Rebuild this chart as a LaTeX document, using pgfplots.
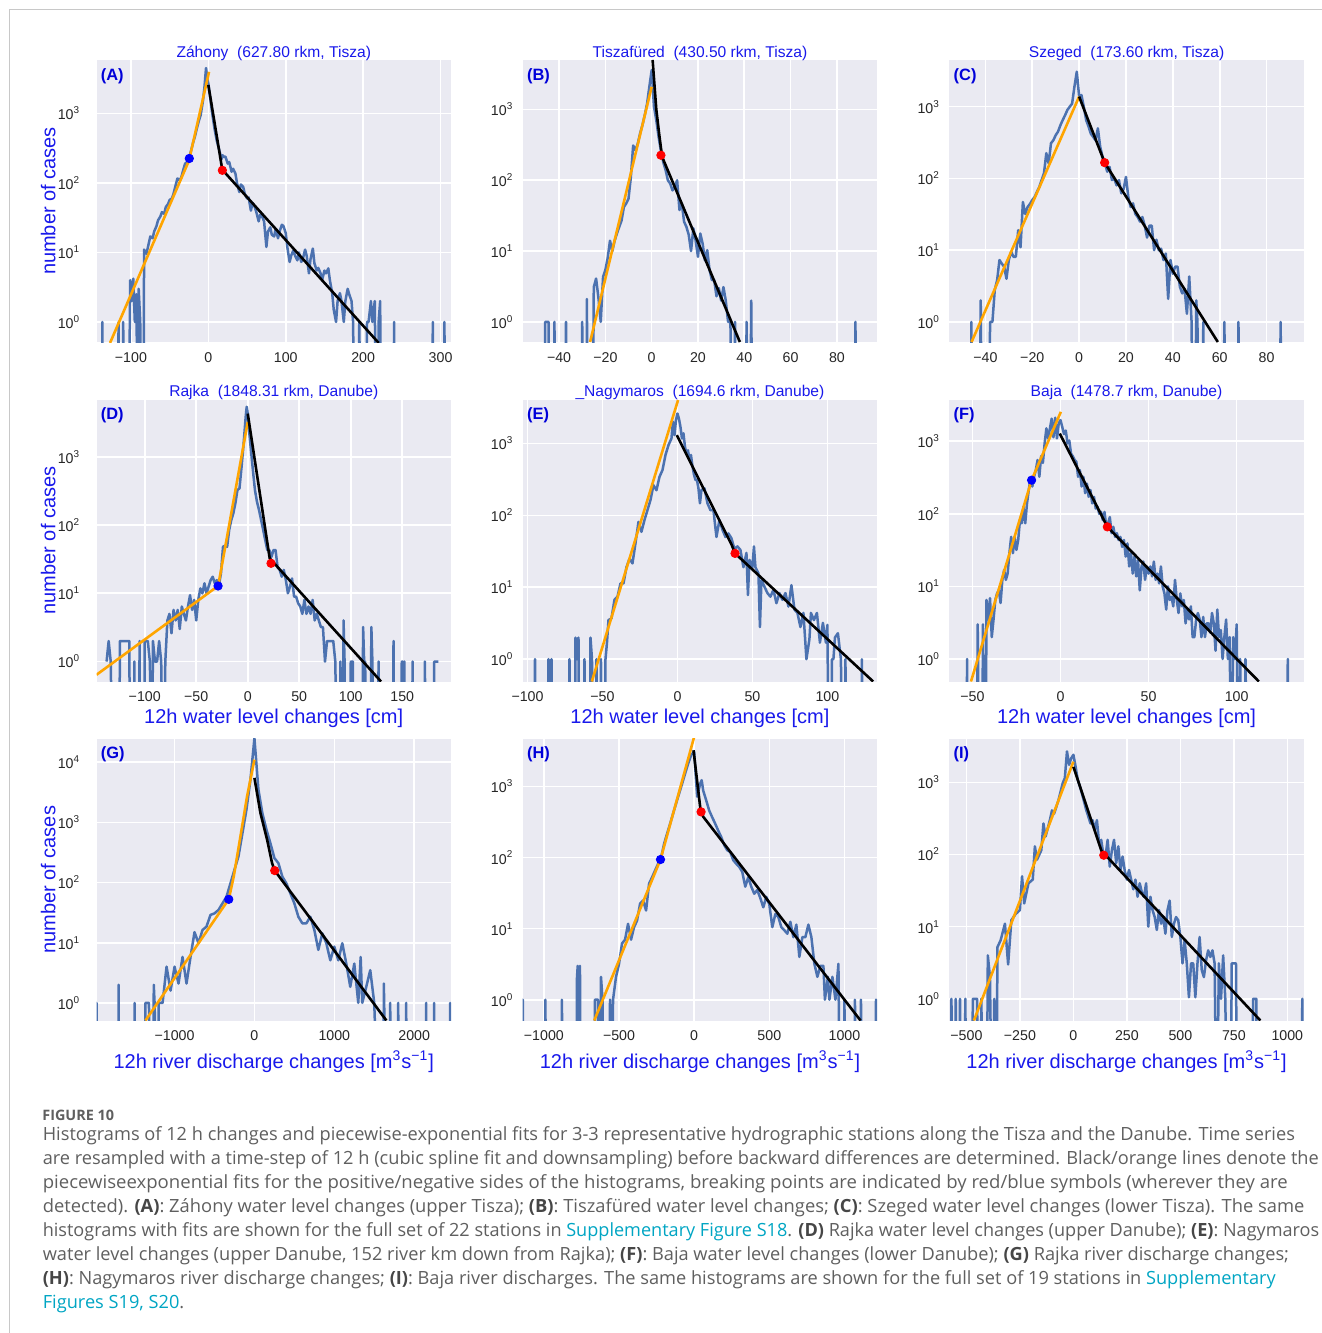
\documentclass[border=0pt]{standalone}
\usepackage{fontspec}
\setmainfont{Liberation Sans}
\newfontfamily\capfont{Open Sans}
\usepackage{pgfplots}
\pgfplotsset{compat=1.18}
\definecolor{bgc}{RGB}{234,234,242}
\definecolor{sblue}{RGB}{76,114,176}
\definecolor{forange}{RGB}{255,165,0}
\definecolor{ttl}{RGB}{25,25,235}
\definecolor{tickc}{RGB}{38,38,38}
\definecolor{capg}{RGB}{95,95,95}
\definecolor{capb}{RGB}{70,70,70}
\definecolor{link}{RGB}{0,165,195}
\definecolor{framec}{RGB}{200,200,200}
\pgfplotsset{
 mypanel/.style={
  scale only axis, width=177.25pt, height=141pt,
  axis background/.style={fill=bgc},
  axis line style={draw=none},
  major tick length=0pt, minor tick length=0pt,
  grid=major, major grid style={white, line width=0.8pt},
  tick label style={font=\fontsize{7.1}{8}\selectfont, text=tickc},
  xticklabel style={inner sep=0pt, anchor=north, yshift=-5pt},
  yticklabel style={inner sep=0pt, anchor=east},
  clip mode=individual,
  anchor=south west,
 },
 mycolA/.style={yticklabel style={xshift=-8pt}},
 mycolB/.style={yticklabel style={xshift=-4.5pt}},
 myyfour/.style={ytick={1,10,100,1000}, yticklabels={10\textsuperscript{0},10\textsuperscript{1},10\textsuperscript{2},10\textsuperscript{3}}},
 myyfive/.style={ytick={1,10,100,1000,10000}, yticklabels={10\textsuperscript{0},10\textsuperscript{1},10\textsuperscript{2},10\textsuperscript{3},10\textsuperscript{4}}},
 myblue/.style={sblue, line width=1.25pt, line join=round},
 myorange/.style={forange, line width=1.3pt},
 myblack/.style={black, line width=1.3pt},
 myreddot/.style={only marks, mark=*, mark size=2.1pt, mark options={draw=red, fill=red}},
 mybluedot/.style={only marks, mark=*, mark size=2.1pt, mark options={draw=blue, fill=blue}},
}
\newcommand{\lab}[1]{\node[anchor=north west, inner sep=0pt, font=\fontsize{8.2}{9}\selectfont\bfseries, text=blue!85!black] at (rel axis cs:0,1) [xshift=2pt, yshift=-4pt] {#1};}
\begin{document}
\begin{tikzpicture}
\path[use as bounding box] (0,0) rectangle (661pt,-666.5pt);
\draw[framec, line width=0.6pt] (4.65pt,-666.5pt) -- (4.65pt,-4.65pt) -- (661pt,-4.65pt);

% ---------------- A
\begin{semilogyaxis}[mypanel, mycolA, myyfour, at={(48.25pt,-171pt)}, xmin=-144.5, xmax=313.5, ymin=0.515, ymax=5870,
 xtick={-100,0,100,200,300}, xticklabels={−100,0,100,200,300}]
\addplot[myblue] coordinates {(-137,0.01)(-137,1)(-136,0.01)(-117,0.01)(-116,1)(-115,0.01)(-111,0.01)(-110,1)(-109,0.01)
(-103,0.01)(-101,4)(-99,2)(-97,4.2)(-95,1)(-93,2.5)(-91,0.01)(-90,3)(-88,1)(-86,0.01)(-84,0.01)(-83,11)(-80,9.6)(-78,12)(-75,17)(-72,16)(-70,20)(-67,24)(-65,29)(-62,33)(-60,38)(-57,36)(-55,45)(-52,50)(-50,57)(-47,60)(-45,70)(-42,95)(-40,116)(-37,110)(-35,120)(-32,160)(-30,190)(-27,200)(-25,225)(-22,300)(-20,370)(-17,480)(-15,600)(-12,800)(-10,940)(-7,1500)(-5,2400)(-3,4500)(-1,3000)(0,2700)(2,1800)(5,1000)(8,600)(11,400)(14,300)(17,220)(18.5,250)(20,237)(22,240)(25,190)(27,200)(30,145)(32,160)(35,136)(37,100)(40,74)(42,95)(45,88)(47,70)(50,60)(52,62)(55,40)(57,52)(60,45)(62,38)(65,28)(67,35)(70,32)(72,28)(75,12)(77,20)(80,23)(82,18)(85,17)(87,22)(90,16)(92,20)(95,25)(97,24)(100,19)(102,12)(105,7.3)(107,9)(110,10.8)(112,9)(115,7.7)(117,10)(120,7.3)(122,8)(125,11)(127,9)(130,5)(132,8)(135,11.4)(137,7)(140,5.5)(142,6)(145,5)(147,4)(150,5.5)(152,5)(155,5.9)(157,4)(160,2.6)(162,1.5)(165,1)(167,2)(170,2.6)(172,2)(175,1)(177,2)(180,3)(182,2.5)(185,2)(187,1)(189,0.01)(193,0.01)(195,1)(197,0.01)(203,0.01)(205,1)(207,1)(210,2)(212,1)(215,2)(217,0.01)(219,0.01)(220,1)(222,2)(223,0.01)(239,0.01)(240,1)(241,0.01)(289,0.01)(290,1)(291,0.01)(304,0.01)(305,1)(306,0.01)};
\addplot[myorange] coordinates {(-127,0.5)(-25,210)(0.9,3970)};
\addplot[myblack] coordinates {(0,2570)(18,155)(220,0.5)};
\addplot[mybluedot] coordinates {(-24.6,225)};
\addplot[myreddot] coordinates {(18.1,152)};
\lab{(A)}
\end{semilogyaxis}

% ---------------- B
\begin{semilogyaxis}[mypanel, mycolB, myyfour, at={(261.35pt,-171pt)}, xmin=-55.7, xmax=97.4, ymin=0.52, ymax=5000,
 xtick={-40,-20,0,20,40,60,80}, xticklabels={−40,−20,0,20,40,60,80}]
\addplot[myblue] coordinates {(-46,0.01)(-46,1)(-44.5,1)(-44.5,0.01)(-42,0.01)(-42,1)(-41.5,0.01)(-37.5,0.01)(-37,1)(-36.5,0.01)(-30.5,0.01)(-30,1)(-29.5,0.01)(-28,0.01)(-28,2.1)(-27.5,0.01)(-25.5,0.01)(-25,3.1)(-24,4.1)(-23,2.2)(-22,1)(-21,4.3)(-20,5.4)(-19,8)(-18,14)(-17,10)(-16,14)(-15,17.7)(-14,22)(-13,27)(-12,42)(-11,47)(-10,55)(-9,110)(-8,310)(-7,265)(-6,330)(-5,460)(-4,600)(-3,830)(-2,1200)(-1,2100)(0,3600)(1,1100)(2,700)(3,410)(4,260)(5,180)(6,140)(7,100)(8,90)(9,72)(10,81)(11,100)(12,38)(13,47)(14,26)(15,22)(16,17)(17,10)(18,21)(19,14)(20,8.3)(21,17.7)(22,12.8)(23,7.4)(24,10.3)(25,5.4)(26,3.9)(27,3.9)(28,2.3)(29,3)(30,2)(31,3.1)(32,2)(33,1)(34,1)(35,0.01)(35.5,0.01)(36,1)(36.5,0.01)(40.5,0.01)(41,1)(41.5,0.01)(42.5,0.01)(43,2)(43.5,0.01)(87.5,0.01)(88,1)(88.5,0.01)};
\addplot[myorange] coordinates {(-26.6,0.52)(0,2090)};
\addplot[myblack] coordinates {(0.4,5000)(2,1000)(3.2,460)(4.5,215)(38.1,0.52)};
\addplot[myreddot] coordinates {(4,226)};
\lab{(B)}
\end{semilogyaxis}

% ---------------- C
\begin{semilogyaxis}[mypanel, mycolB, myyfour, at={(474.65pt,-171pt)}, xmin=-55.4, xmax=95.9, ymin=0.526, ymax=4470,
 xtick={-40,-20,0,20,40,60,80}, xticklabels={−40,−20,0,20,40,60,80}]
\addplot[myblue] coordinates {(-46,0.01)(-46,1)(-45.5,0.01)(-42.5,0.01)(-42,2)(-41.5,0.01)(-38.5,0.01)(-38,1)(-37,1)(-36,2.8)(-35,3.8)(-34,7.3)(-33,6.5)(-32,5.9)(-31,4)(-30,7.3)(-29,9.5)(-28,8.1)(-27,8.1)(-26,19)(-25,11)(-24,47)(-23,32)(-22,40)(-21,44)(-20,50)(-19,55)(-18,65)(-17,76)(-16,95)(-15,118)(-14,225)(-13,162)(-12,310)(-11,340)(-10,400)(-9,450)(-8,550)(-7,650)(-6,760)(-5,900)(-4,1000)(-3,1100)(-2,1900)(-1,3070)(0,1400)(1,1450)(2,1000)(3,650)(4,530)(5,420)(6,380)(7,340)(8,500)(9,275)(10,200)(11,165)(12,124)(13,145)(14,95)(15,100)(16,80)(17,95)(18,62)(19,72)(20,105)(21,55)(22,40)(23,45)(24,32)(25,29)(26,25)(27,29)(28,22)(29,15)(30,22)(31,22)(32,10)(33,14)(34,10)(35,10.5)(36,7.3)(37,9)(38,2.1)(39,7.3)(40,4.7)(41,5.9)(42,5.9)(43,3.1)(44,2.5)(45,2.9)(46,1.3)(47,4.3)(48,1)(48.5,0.01)(49.5,0.01)(50,2)(50.5,1)(51,0.01)(52.5,0.01)(53,1)(53.5,0.01)(61.5,0.01)(62,1)(62.5,0.01)(67.5,0.01)(68,1)(68.5,0.01)(85.5,0.01)(86,1)(86.5,0.01)};
\addplot[myorange] coordinates {(-45.9,0.526)(0,1380)};
\addplot[myblack] coordinates {(0,1380)(10.9,166)(59.2,0.526)};
\addplot[myreddot] coordinates {(10.9,166)};
\lab{(C)}
\end{semilogyaxis}

% ---------------- D
\begin{semilogyaxis}[mypanel, mycolA, myyfour, at={(48.25pt,-340.75pt)}, xmin=-146.8, xmax=197.3, ymin=0.51, ymax=6900,
 xtick={-100,-50,0,50,100,150}, xticklabels={−100,−50,0,50,100,150}]
\addplot[myblue] coordinates {(-137,1)(-135,2)(-133,1)(-131,0.01)(-125,0.01)(-124,2)(-115,2)(-114,0.01)(-110.5,0.01)(-110,1)(-109.5,0.01)(-105.5,0.01)(-105,2)(-104.5,0.01)(-100.5,0.01)(-100,2)(-97,2)(-95,1)(-93,0.01)(-92,2)(-90,1)(-88,1)(-86,2)(-84,1)(-82,0.01)(-80,1)(-78,4)(-76,5)(-74,2.6)(-72,5.7)(-70,4)(-68,5.7)(-66,3)(-64,6.4)(-62,5)(-60,4)(-58,6.4)(-56,9.4)(-54,5.7)(-52,8)(-50,4)(-48,8)(-46,11.8)(-44,10)(-42,14)(-40,10)(-38,12.5)(-36,15.6)(-34,17.5)(-32,14)(-30,15.6)(-28,13)(-26,19.5)(-24,48)(-22,50)(-20,48)(-18,85)(-16,118)(-14,148)(-12,208)(-10,325)(-8,345)(-6,710)(-4,1550)(-2,3850)(-1,5400)(0,4300)(1,2700)(3,1300)(5,640)(7,325)(9,218)(11,165)(13,118)(15,85)(17,60)(19,43)(21,43)(23,34)(25,43)(27,43)(29,24)(31,22)(33,17.5)(35,22)(37,15.6)(39,10)(41,12.5)(43,16.5)(45,8.9)(47,8.9)(49,7.1)(51,6.4)(53,5)(55,8)(57,5)(59,6.4)(61,5)(63,8)(65,4)(67,5)(69,4)(71,3.2)(73,3.2)(75,1)(77,2)(80,2)(83,2)(85,1)(87,0.01)(89,0.01)(90,1)(91,0.01)(92.5,0.01)(93,4)(94,1)(95,0.01)(99,0.01)(100,1)(102,1)(103,0.01)(111,0.01)(112,3.2)(113,1)(114,1)(115,0.01)(119,0.01)(120,3.2)(121,1)(122,0.01)(126,0.01)(127,1)(128,0.01)(141,0.01)(141.5,2)(142,0.01)(149,0.01)(149.5,1)(150.5,1)(151,0.01)(151.5,0.01)(152,1)(152.5,0.01)(159.5,0.01)(160,1)(160.5,0.01)(171.5,0.01)(172,1)(172.5,0.01)(181,0.01)(181,1)(185,1)};
\addplot[myorange] coordinates {(-146.8,0.64)(-28.8,12.8)(-26.5,19.5)(0,3240)};
\addplot[myblack] coordinates {(0,4290)(21.3,32.6)(129.4,0.51)};
\addplot[mybluedot] coordinates {(-28.8,12.8)};
\addplot[myreddot] coordinates {(22.6,27.5)};
\lab{(D)}
\end{semilogyaxis}

% ---------------- E
\begin{semilogyaxis}[mypanel, mycolB, myyfour, at={(261.35pt,-340.75pt)}, xmin=-103.2, xmax=133.2, ymin=0.49, ymax=4070,
 xtick={-100,-50,0,50,100}, xticklabels={−100,−50,0,50,100}]
\addplot[myblue] coordinates {(-95.5,0.01)(-95,1)(-94.5,0.01)(-86.5,0.01)(-86,1)(-85.5,0.01)(-84.5,0.01)(-84,1)(-83.5,0.01)(-72.5,0.01)(-72,1)(-71.5,0.01)(-68.5,0.01)(-68,2)(-67,1)(-66,2)(-65.5,0.01)(-62.5,0.01)(-62,1)(-61.5,0.01)(-58.5,0.01)(-58,2)(-57,1)(-56.5,0.01)(-54.5,0.01)(-54,1)(-53.5,0.01)(-51.5,0.01)(-51,1)(-50.5,0.01)(-48.5,0.01)(-48,1)(-47,1.7)(-46,3.5)(-44,3.7)(-42,6.7)(-40,7.4)(-38,11.3)(-36,11.3)(-34,19)(-32,25)(-30,21.5)(-28,40.8)(-26,81)(-24,59)(-22,86)(-20,118)(-18,163)(-16,262)(-14,223)(-12,342)(-10,425)(-8,687)(-6,945)(-4,1170)(-3,2000)(-2,1300)(-1,2100)(0,2600)(1,2200)(2,1700)(3,1170)(4,1380)(5,900)(6,720)(7,800)(8,590)(9,690)(10,480)(11,370)(12,310)(13,310)(14,237)(15,147)(16,225)(18,237)(20,147)(22,118)(24,118)(26,50)(28,86)(30,63)(32,50)(34,56)(36,48)(38,34)(40,37)(42,33)(44,19)(46,30)(47,7.8)(48,24)(50,19)(51,37)(52,19)(54,15.6)(55,2.8)(56,12.6)(58,10.2)(60,8.3)(62,7.4)(64,9.2)(66,6)(68,8.3)(70,6.7)(72,8.3)(74,5.4)(76,10.7)(78,4.9)(80,4.4)(82,2.8)(84,4.4)(86,1)(88,1.9)(89,4.4)(91,3.5)(93,4.4)(95,1.7)(97,3.2)(99,1.7)(100,3)(101,0.01)(102.5,0.01)(103,1)(104,1)(105,2)(107,2.3)(109,1)(110,0.01)(111.5,0.01)(112,1)(113,0.01)(122.5,0.01)(123,1)(123.5,0.01)};
\addplot[myorange] coordinates {(-57.1,0.49)(0.4,4000)};
\addplot[myblack] coordinates {(-0.4,1300)(36.1,39)(38.4,29.6)(130.5,0.49)};
\addplot[myreddot] coordinates {(38.4,29.6)};
\lab{(E)}
\end{semilogyaxis}

% ---------------- F
\begin{semilogyaxis}[mypanel, mycolB, myyfour, at={(474.65pt,-340.75pt)}, xmin=-63.1, xmax=138.1, ymin=0.49, ymax=3740,
 xtick={-50,0,50,100}, xticklabels={−50,0,50,100}]
\addplot[myblue] coordinates {(-53.5,0.01)(-53,1)(-52.5,0.01)(-47.5,0.01)(-47,3)(-46,0.01)(-44.5,0.01)(-44,3)(-43,0.01)(-42.5,0.01)(-42,6.5)(-41,3.5)(-40,6.9)(-39,2)(-38,3.5)(-37,6.5)(-36,8)(-35,8.8)(-34,5.9)(-33,12.3)(-32,16.8)(-31,12.3)(-30,15)(-29,28.6)(-28,48)(-27,28.6)(-26,48)(-25,31.8)(-24,43.5)(-23,82)(-22,74)(-21,125)(-20,74)(-19,139)(-18,212)(-17,313)(-16,237)(-15,323)(-14,400)(-13,550)(-12,323)(-11,620)(-10,500)(-9,930)(-8,1500)(-7,1090)(-6,1500)(-5,2040)(-4,1130)(-3,2100)(-2,1090)(-1,1750)(0,1950)(1,1570)(2,1250)(3,1400)(4,930)(5,1020)(6,670)(7,620)(8,550)(9,520)(10,323)(11,400)(12,237)(13,323)(14,192)(15,260)(16,171)(17,212)(18,139)(19,171)(20,118)(21,125)(22,100)(23,106)(24,82)(25,106)(26,66)(27,74)(28,90)(29,54)(30,66)(31,48)(32,54)(33,43.5)(34,48)(35,35)(36,43.5)(37,25.7)(38,39)(39,18.8)(40,28.6)(41,15)(42,25.7)(43,13.7)(44,23)(45,8.8)(46,18.8)(47,22)(48,12.3)(49,18.8)(50,15)(51,18.8)(52,13.7)(53,22)(54,12.3)(55,15)(56,11)(57,18.8)(58,10)(59,8)(60,4.8)(61,10)(62,6.5)(63,7.2)(64,5.3)(65,12.3)(66,6.5)(67,4.3)(68,8)(69,5.3)(70,6.5)(71,3.1)(72,4.8)(73,3.5)(74,5.3)(75,2)(76,2)(77,3.5)(78,4.3)(79,3.5)(80,2)(81,3.8)(82,2)(83,3.1)(84,3.1)(85,2.3)(86,4.3)(87,3.1)(88,1.3)(89,4.8)(90,2)(91,2.5)(92,1)(93,2)(94,3.5)(95,1)(96,2)(97,0.01)(98,2)(99,1)(100,3)(101,0.01)(102,1)(103,0.01)(104.5,0.01)(105,1)(106,0.01)(128.5,0.01)(129,1)(129.5,0.01)};
\addplot[myorange] coordinates {(-50.8,0.49)(-16.4,290)(0.2,2530)};
\addplot[myblack] coordinates {(-0.4,1270)(25.1,78)(26.6,66)(112.6,0.49)};
\addplot[mybluedot] coordinates {(-16.4,290)};
\addplot[myreddot] coordinates {(26.6,66)};
\lab{(F)}
\end{semilogyaxis}

% ---------------- G
\begin{semilogyaxis}[mypanel, mycolA, myyfive, at={(48.25pt,-510.25pt)}, xmin=-1977, xmax=2461, ymin=0.51, ymax=24700,
 xtick={-1000,0,1000,2000}, xticklabels={−1000,0,1000,2000}]
\addplot[myblue] coordinates {(-1977,0.01)(-1977,1)(-1970,0.01)(-1705,0.01)(-1700,2)(-1695,0.01)(-1505,0.01)(-1500,1)(-1495,0.01)(-1370,0.01)(-1365,1)(-1320,1)(-1315,0.01)(-1265,0.01)(-1260,2)(-1250,1)(-1220,0.01)(-1200,0.01)(-1200,1)(-1150,1)(-1100,4)(-1050,1.6)(-1000,4)(-950,2.1)(-900,5.8)(-850,2.1)(-800,5.8)(-750,15)(-700,9.8)(-650,16.3)(-600,18.5)(-550,29)(-500,30.7)(-450,35)(-400,45)(-350,58)(-300,97)(-250,163)(-200,270)(-150,660)(-100,1620)(-50,5100)(0,25000)(50,3500)(100,1400)(150,760)(200,450)(250,255)(300,210)(350,125)(400,97)(450,66)(500,45)(550,27)(600,21)(650,21)(700,27)(750,16.3)(800,7.6)(850,14.3)(900,9.8)(950,5.1)(1000,8.6)(1050,5.1)(1100,9.8)(1150,4.5)(1200,1.85)(1250,4.5)(1300,1)(1330,5.8)(1350,1)(1400,1.85)(1450,3.5)(1500,1)(1550,0.01)(1615,0.01)(1620,2.1)(1650,0.01)(1695,0.01)(1700,1)(1705,0.01)(1795,0.01)(1800,1)(1805,0.01)(1895,0.01)(1900,1)(1905,0.01)(2145,0.01)(2150,1)(2155,0.01)(2245,0.01)(2250,1)(2255,0.01)(2445,0.01)(2450,1)(2455,0.01)};
\addplot[myorange] coordinates {(-1364,0.51)(-384,40)(-321,52.6)(-259,126)(-175,585)(-92,2700)(0,11000)};
\addplot[myblack] coordinates {(0,5480)(75,1440)(159,515)(221,210)(254,158)(1652,0.51)};
\addplot[mybluedot] coordinates {(-321,52.6)};
\addplot[myreddot] coordinates {(254,158)};
\lab{(G)}
\end{semilogyaxis}

% ---------------- H
\begin{semilogyaxis}[mypanel, mycolB, myyfour, at={(261.35pt,-510.25pt)}, xmin=-1141, xmax=1218, ymin=0.51, ymax=4740,
 xtick={-1000,-500,0,500,1000}, xticklabels={−1000,−500,0,500,1000}]
\addplot[myblue] coordinates {(-1141,0.01)(-1140,1)(-1135,0.01)(-995,0.01)(-990,1)(-985,0.01)(-885,0.01)(-880,1)(-875,0.01)(-785,0.01)(-780,2)(-775,3)(-770,0.01)(-765,0.01)(-760,3)(-755,0.01)(-665,0.01)(-660,1)(-640,1)(-635,0.01)(-625,0.01)(-620,2.1)(-610,1)(-600,0.01)(-565,0.01)(-560,1)(-555,0.01)(-545,0.01)(-540,1)(-520,2.1)(-500,3.2)(-480,6.2)(-460,7)(-440,11.7)(-420,7)(-400,10.5)(-380,13)(-360,22.5)(-340,25)(-320,18)(-300,43)(-280,53)(-260,66)(-240,82)(-220,100)(-200,157)(-180,218)(-160,300)(-140,418)(-120,580)(-100,800)(-80,1100)(-60,1530)(-40,2100)(-20,2770)(0,3100)(20,720)(40,1100)(50,1230)(60,880)(80,640)(100,460)(120,370)(140,300)(160,240)(180,195)(200,150)(220,127)(240,120)(260,92)(280,82)(300,74)(320,63)(340,39)(360,53)(380,39)(400,31)(420,35)(440,27)(460,20)(480,28)(500,22)(520,10.5)(540,16)(560,14.6)(580,10.5)(600,9.5)(620,8.5)(640,12.5)(660,7.6)(680,11.4)(700,4)(720,7.6)(740,7.6)(760,11.4)(780,7.6)(800,3.2)(820,2.1)(840,3)(860,3)(870,1)(890,2.1)(900,1)(920,2.1)(940,1)(960,3.2)(970,0.01)(995,0.01)(1000,1)(1005,0.01)(1065,0.01)(1070,1)(1075,0.01)(1105,0.01)(1110,1)(1115,0.01)(1205,0.01)(1210,1)(1215,0.01)};
\addplot[myorange] coordinates {(-665,0.51)(-224,94)(0,5000)};
\addplot[myblack] coordinates {(-4.4,3240)(40,516)(46,440)(60.7,375)(1107,0.51)};
\addplot[mybluedot] coordinates {(-224,94)};
\addplot[myreddot] coordinates {(46,440)};
\lab{(H)}
\end{semilogyaxis}

% ---------------- I
\begin{semilogyaxis}[mypanel, mycolB, myyfour, at={(474.65pt,-510.25pt)}, xmin=-580, xmax=1077, ymin=0.5, ymax=4070,
 xtick={-500,-250,0,250,500,750,1000}, xticklabels={−500,−250,0,250,500,750,1000}]
\addplot[myblue] coordinates {(-575,0.01)(-570,1)(-565,0.01)(-555,0.01)(-550,1)(-545,0.01)(-535,0.01)(-530,1)(-525,0.01)(-510,0.01)(-505,1)(-500,0.01)(-475,0.01)(-470,1)(-450,1)(-445,0.01)(-435,0.01)(-430,1)(-425,0.01)(-405,0.01)(-400,4)(-390,2)(-380,0.01)(-375,0.01)(-370,1)(-365,0.01)(-360,0.01)(-355,5.2)(-340,6.5)(-320,11)(-305,3)(-290,12.3)(-270,15)(-250,17)(-240,50)(-230,21)(-210,40)(-190,45)(-180,130)(-170,85)(-150,115)(-140,270)(-130,178)(-110,300)(-100,410)(-90,370)(-70,565)(-50,980)(-40,1150)(-30,2700)(-20,1760)(-10,2170)(0,2420)(10,1680)(20,1100)(30,890)(40,700)(50,540)(60,415)(70,335)(80,270)(90,300)(100,220)(110,300)(120,145)(130,160)(140,100)(150,94)(160,160)(170,68)(180,115)(190,160)(200,76)(210,130)(220,61)(230,94)(240,60)(250,45)(260,61)(270,45)(280,33)(290,45)(300,26)(310,40)(320,30)(330,26)(340,40)(350,10)(360,26)(370,17)(380,13.6)(390,9)(400,17)(410,11)(420,13.6)(430,8)(440,17)(450,23)(460,7.2)(470,11)(480,13.6)(490,12.3)(500,7.2)(510,3.1)(520,6.5)(530,3.1)(540,1.05)(550,3.1)(560,3.1)(570,1.05)(580,3.1)(590,7.2)(600,2.5)(610,2)(620,3.4)(630,4.7)(640,3.8)(650,4.7)(660,3.1)(670,0.01)(680,3.1)(690,1)(700,4)(710,1)(720,0.01)(735,0.01)(740,3.1)(760,3.1)(765,0.01)(835,0.01)(840,1)(855,1)(860,0.01)(1065,0.01)(1070,1)(1075,0.01)};
\addplot[myorange] coordinates {(-465,0.5)(0,1940)};
\addplot[myblack] coordinates {(0,1650)(131,113)(874,0.5)};
\addplot[myreddot] coordinates {(142,98)};
\lab{(I)}
\end{semilogyaxis}

% titles
\begin{scope}[every node/.style={font=\fontsize{7.8}{9}\selectfont, text=ttl, inner sep=0pt, anchor=base}]
\node at (136.875pt,-28.5pt) {Záhony\ \ (627.80 rkm, Tisza)};
\node at (349.975pt,-28.5pt) {Tiszafüred\ \ (430.50 rkm, Tisza)};
\node at (563.275pt,-28.5pt) {Szeged\ \ (173.60 rkm, Tisza)};
\node at (136.875pt,-198.25pt) {Rajka\ \ (1848.31 rkm, Danube)};
\node at (349.975pt,-198.25pt) {\_Nagymaros\ \ (1694.6 rkm, Danube)};
\node at (563.275pt,-198.25pt) {Baja\ \ (1478.7 rkm, Danube)};
\end{scope}
% axis labels
\begin{scope}[every node/.style={font=\fontsize{10}{12}\selectfont, text=ttl, inner sep=0pt, anchor=center}]
\node[rotate=90] at (24.15pt,-100.5pt) {number of cases};
\node[rotate=90] at (24.15pt,-270.25pt) {number of cases};
\node[rotate=90] at (24.15pt,-439.9pt) {number of cases};
\node at (136.875pt,-359.15pt) {12h water level changes [cm]};
\node at (349.975pt,-359.15pt) {12h water level changes [cm]};
\node at (563.275pt,-359.15pt) {12h water level changes [cm]};
\node at (136.875pt,-530.85pt) {12h river discharge changes [m\textsuperscript{3}s\textsuperscript{−1}]};
\node at (349.975pt,-530.85pt) {12h river discharge changes [m\textsuperscript{3}s\textsuperscript{−1}]};
\node at (563.275pt,-530.85pt) {12h river discharge changes [m\textsuperscript{3}s\textsuperscript{−1}]};
\end{scope}
% caption
\newcommand{\B}[1]{\textcolor{capb}{\bfseries #1}}
\newcommand{\Lk}[1]{\textcolor{link}{#1}}
\begin{scope}[every node/.style={font=\capfont\fontsize{9.1}{11}\selectfont, text=capg, inner sep=0pt, anchor=base west}]
\node[font=\capfont\fontsize{7.2}{8}\selectfont\bfseries] at (21pt,-560pt) {FIGURE 10};
\node at (21.2pt,-570pt) {Histograms of 12 h changes and piecewise-exponential fits for 3-3 representative hydrographic stations along the Tisza and the Danube. Time series};
\node at (21.2pt,-582pt) {are resampled with a time-step of 12 h (cubic spline fit and downsampling) before backward differences are determined. Black/orange lines denote the};
\node[xscale=1.02] at (21.2pt,-594pt) {piecewiseexponential fits for the positive/negative sides of the histograms, breaking points are indicated by red/blue symbols (wherever they are};
\node[xscale=1.008] at (21.2pt,-606pt) {detected). \B{(A)}: Záhony water level changes (upper Tisza); \B{(B)}: Tiszafüred water level changes; \B{(C)}: Szeged water level changes (lower Tisza). The same};
\node[xscale=0.994] at (21.2pt,-618pt) {histograms with fits are shown for the full set of 22 stations in \Lk{Supplementary Figure S18}. \B{(D)} Rajka water level changes (upper Danube); \B{(E)}: Nagymaros};
\node at (21.2pt,-630pt) {water level changes (upper Danube, 152 river km down from Rajka); \B{(F)}: Baja water level changes (lower Danube); \B{(G)} Rajka river discharge changes;};
\node at (21.2pt,-642pt) {\B{(H)}: Nagymaros river discharge changes; \B{(I)}: Baja river discharges. The same histograms are shown for the full set of 19 stations in \Lk{Supplementary}};
\node at (21.2pt,-654pt) {\Lk{Figures S19, S20}.};
\end{scope}
\end{tikzpicture}
\end{document}
